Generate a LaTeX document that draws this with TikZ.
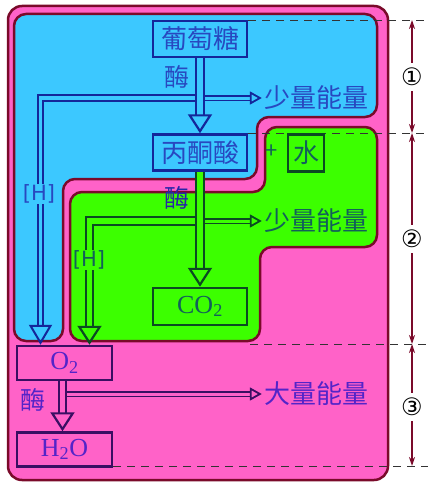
\documentclass[tikz,border=0pt]{standalone}
\usepackage{fontspec}
\setmainfont{Liberation Serif}
\newfontfamily\cjk{Noto Sans CJK SC}
\newfontfamily\hfont{DejaVu Sans}
\usepackage{tikz}
\usetikzlibrary{arrows.meta,positioning}

\definecolor{pinkbg}{HTML}{FF62C8}
\definecolor{bluebg}{HTML}{3CC8FF}
\definecolor{greenbg}{HTML}{3CFF00}
\definecolor{bordred}{HTML}{7A0A2A}
\definecolor{navy}{HTML}{14269A}
\definecolor{bluetxt}{HTML}{2848C0}
\definecolor{dkgreen}{HTML}{0B4A22}
\definecolor{greentxt}{HTML}{12605A}
\definecolor{dkpurple}{HTML}{3A0E62}
\definecolor{purpletxt}{HTML}{5424C8}

\begin{document}
\begin{tikzpicture}[x=1pt, y=-1pt,
	region/.style = {draw=bordred, line width=2.5pt, rounded corners=12pt},
	basic/.style  = {draw, line width=2.5pt, minimum width=94pt, minimum height=36pt, inner sep=0pt},
	bluebox/.style   = {basic, draw=navy, fill=bluebg, text=bluetxt, font=\cjk\fontsize{26}{26}\selectfont},
	greenbox/.style  = {basic, draw=dkgreen, fill=greenbg, text=greentxt},
	pinkbox/.style   = {basic, draw=dkpurple, fill=pinkbg, text=purpletxt, font=\fontsize{26}{26}\selectfont},
	label/.style  = {inner sep=2pt, font=\cjk\fontsize{26}{26}\selectfont},
	hlabel/.style = {inner sep=1pt, font=\hfont\fontsize{21}{21}\selectfont},
	tube/.style   = {line width=2.2pt, double distance=5.5pt, -{Triangle[open, length=19pt, width=24pt]}},
	branch/.style = {line width=1.8pt, double distance=3pt, -{Triangle[open, length=12pt, width=13pt]}},
	htube/.style  = {line width=2pt, double distance=3.5pt, -{Triangle[open, length=20pt, width=23pt]}},
	dashline/.style = {black!80, line width=0.8pt, dash pattern=on 8pt off 6pt},
	stage/.style  = {inner sep=5pt, font=\hfont\fontsize{24}{24}\selectfont},
	>={Stealth[length=9pt, width=6pt]}]
	
	\useasboundingbox (0,0) rectangle (440,503);
	
	% the three regions
	\draw[region, fill=pinkbg, rounded corners=14pt] (8,6) rectangle (388,480);
	\draw[region, fill=bluebg] (14,14) -- (377,14) -- (377,117) -- (257,117) -- (257,179)
		-- (63,179) -- (63,341) -- (14,341) -- cycle;
	\draw[region, fill=greenbg] (70,192) -- (265,192) -- (265,127) -- (377,127) -- (377,247)
		-- (260,247) -- (260,341) -- (70,341) -- cycle;
	
	% dashed lines and the stages on the right
	\foreach \y/\x [count=\i] in {20/248, 133/248, 344/250, 466/113} {
		\draw[dashline] (\x,\y) -- (428,\y);
		\coordinate (d\i) at (412,\y);
	}
	\node[stage] (s1) at (412,77) {①};
	\node[stage] (s2) at (412,239) {②};
	\node[stage] (s3) at (412,407) {③};
	\begin{scope}[draw=bordred, line width=1.6pt]
	\foreach \s/\a/\b in {s1/d1/d2, s2/d2/d3, s3/d3/d4} {
		\draw[->] (\s.north) -- (\a);
		\draw[->] (\s.south) -- (\b);
	}
	\end{scope}
	
	% the boxes
	\node[bluebox] (glu) at (200,39) {葡萄糖};
	\node[bluebox, below=75pt of glu] (pyr) {丙酮酸};
	\node[greenbox, minimum width=36pt, minimum height=37pt, font=\cjk\fontsize{26}{26}\selectfont] (wat) at (306,153) {水};
	\node[text=greentxt, inner sep=0pt, font=\cjk\fontsize{22}{22}\selectfont] (plus) at (272,152) {+};
	\node[greenbox, minimum height=37pt, font=\fontsize{26}{26}\selectfont] (co2) at (200,306.5) {CO\textsubscript{2}};
	\node[pinkbox, minimum width=95pt, minimum height=34pt] (o2) at (64.5,363) {O\textsubscript{2}};
	\node[pinkbox, minimum width=95pt, minimum height=34pt, below=50pt of o2] (h2o) {H\textsubscript{2}O};
	
	% energy and enzyme labels
	\node[label, text=bluetxt] (e1) at (316,98) {少量能量};
	\node[label, text=greentxt] (e2) at (316,221) {少量能量};
	\node[label, text=purpletxt] (e3) at (316,394) {大量能量};
	\node[label, text=bluetxt, font=\cjk\fontsize{25}{25}\selectfont] (m1) at (177,77) {酶};
	\node[label, text=navy!70!purpletxt, font=\cjk\fontsize{25}{25}\selectfont] (m2) at (177,198) {酶};
	\node[label, text=purpletxt, font=\cjk\fontsize{25}{25}\selectfont] (m3) at (33,400) {酶};
	
	% stage 1: glucose to pyruvate
	\draw[branch, draw=navy, double=bluebg] (glu.south |- e1) -- (e1.west);
	\draw[htube, draw=navy, double=bluebg] (glu.south |- e1) -| ([xshift=-24pt]o2.north);
	\draw[tube, draw=navy, double=bluebg] (glu) -- (pyr);
	\node[hlabel, fill=bluebg, text=bluetxt] (h1) at (39,194) {[H]};
	
	% stage 2: pyruvate to carbon dioxide
	\draw[branch, draw=dkgreen, double=greenbg] (pyr.south |- e2) -- (e2.west);
	\draw[tube, draw=dkgreen, double=greenbg] (pyr.south |- e2) -| ([xshift=25pt]o2.north);
	\draw[tube, draw=dkgreen, double=greenbg] (pyr) -- (co2);
	\node[hlabel, fill=greenbg, text=greentxt] (h2) at (89,260) {[H]};
	
	% stage 3: oxygen to water
	\draw[branch, draw=dkpurple, double=pinkbg] ([xshift=-2pt]o2.south |- e3) -- (e3.west);
	\draw[tube, draw=dkpurple, double=pinkbg] ([xshift=-2pt]o2.south) -- ([xshift=-2pt]h2o.north);
	
\end{tikzpicture}
\end{document}
